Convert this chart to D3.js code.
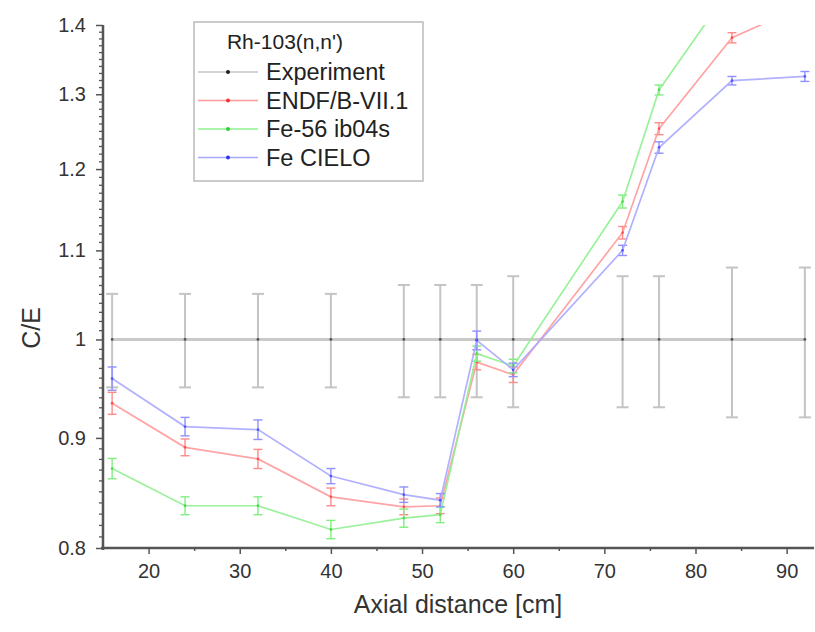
<!DOCTYPE html>
<html>
<head>
<meta charset="utf-8">
<script src="https://cdn.jsdelivr.net/npm/d3@7"></script>
<style>
  html, body { margin: 0; padding: 0; background: #fff; }
  svg { display: block; font-family: "Liberation Sans", Arial, sans-serif; }
</style>
</head>
<body>
<svg id="chart" width="815" height="632"></svg>
<script>
// ---- data ----
const axial = [16, 24, 32, 40, 48, 52, 56, 60, 72, 76, 84, 92];
const experiment = [1, 1, 1, 1, 1, 1, 1, 1, 1, 1, 1, 1];
const experimentErr = [0.05, 0.05, 0.05, 0.05, 0.06, 0.06, 0.06, 0.07, 0.07, 0.07, 0.08, 0.08];
const endf = [0.934, 0.891, 0.880, 0.845, 0.836, 0.837, 0.976, 0.963, 1.121, 1.253, 1.381, 1.43];
const endfErr = [0.011, 0.008, 0.009, 0.008, 0.007, 0.007, 0.008, 0.008, 0.0075, 0.008, 0.0075, 0.008];
const fe56 = [0.871, 0.837, 0.837, 0.816, 0.826, 0.829, 0.985, 0.972, 1.159, 1.306, 1.46, 1.52];
const fe56Err = [0.0095, 0.008, 0.008, 0.008, 0.008, 0.007, 0.008, 0.007, 0.008, 0.007, 0.008, 0.008];
const cielo = [0.959, 0.911, 0.908, 0.864, 0.847, 0.842, 0.999, 0.968, 1.10, 1.228, 1.319, 1.325];
const cieloErr = [0.012, 0.009, 0.0095, 0.007, 0.007, 0.006, 0.01, 0.007, 0.006, 0.0075, 0.006, 0.007];
const seriesNames = ["Experiment", "ENDF/B-VII.1", "Fe-56 ib04s", "Fe CIELO"];
const legendTitle = "Rh-103(n,n')";
const xTicks = [20, 30, 40, 50, 60, 70, 80, 90];
const yTicks = [0.8, 0.9, 1.0, 1.1, 1.2, 1.3, 1.4];
const yTickLabels = ["0.8", "0.9", "1", "1.1", "1.2", "1.3", "1.4"];

// ---- layout ----
const svg = d3.select("#chart");
const L = 103, R = 814, T = 25, B = 548;
const x = d3.scaleLinear().domain([15, 93]).range([L, R]);
const y = d3.scaleLog().domain([0.8, 1.4]).range([B, T]);

const series = [
  { name: seriesNames[0], v: experiment, e: experimentErr, line: "#c4c4c4", err: "#c4c4c4", dot: "#222", lw: 3, ew: 2, cap: 12 },
  { name: seriesNames[1], v: endf, e: endfErr, line: "#ff9a9a", err: "#ff8a8a", dot: "#ff3030", lw: 1.7, ew: 1.4, cap: 9 },
  { name: seriesNames[2], v: fe56, e: fe56Err, line: "#90f090", err: "#80ee80", dot: "#30d030", lw: 1.7, ew: 1.4, cap: 9 },
  { name: seriesNames[3], v: cielo, e: cieloErr, line: "#a8a8ff", err: "#9090ff", dot: "#3030ff", lw: 1.7, ew: 1.4, cap: 9 }
];

svg.append("defs").append("clipPath").attr("id", "clip")
  .append("rect").attr("x", L).attr("y", T).attr("width", R - L).attr("height", B - T);

const plot = svg.append("g").attr("clip-path", "url(#clip)");

series.forEach(s => {
  const pts = axial.map((a, i) => ({ x: a, v: s.v[i], e: s.e[i] }));
  const eg = plot.append("g").attr("stroke", s.err).attr("stroke-width", s.ew).attr("fill", "none");
  pts.forEach(p => {
    const cx = x(p.x), y1 = y(p.v + p.e), y0 = y(p.v - p.e);
    eg.append("line").attr("x1", cx).attr("x2", cx).attr("y1", y1).attr("y2", y0);
    eg.append("line").attr("x1", cx - s.cap / 2).attr("x2", cx + s.cap / 2).attr("y1", y1).attr("y2", y1);
    eg.append("line").attr("x1", cx - s.cap / 2).attr("x2", cx + s.cap / 2).attr("y1", y0).attr("y2", y0);
  });
  plot.append("path").datum(pts)
    .attr("fill", "none").attr("stroke", s.line).attr("stroke-width", s.lw)
    .attr("stroke-opacity", 0.9)
    .attr("d", d3.line().x(d => x(d.x)).y(d => y(d.v)));
  plot.append("g").selectAll("circle").data(pts).join("circle")
    .attr("cx", d => x(d.x)).attr("cy", d => y(d.v)).attr("r", 1.4)
    .attr("fill", s.dot).attr("opacity", 0.7);
});

// ---- axes ----
const axisColor = "#555";
const xAxis = d3.axisBottom(x).tickValues(xTicks).tickSize(6).tickPadding(10).tickFormat(d3.format("d"));
const gx = svg.append("g").attr("transform", `translate(0,${B})`).call(xAxis);
gx.select(".domain").attr("stroke", axisColor).attr("stroke-width", 2.5).attr("d", `M${L - 2},0H${R}`);
gx.selectAll(".tick line").attr("stroke", axisColor).attr("stroke-width", 1.5);
gx.selectAll(".tick text").attr("fill", "#333").style("font-size", "20px");
const xMinor = d3.axisBottom(x).tickValues(d3.range(25, 90, 10)).tickSize(3).tickFormat("");
const gxm = svg.append("g").attr("transform", `translate(0,${B})`).call(xMinor);
gxm.select(".domain").remove();
gxm.selectAll(".tick line").attr("stroke", axisColor).attr("stroke-width", 1.5);

const yAxis = d3.axisLeft(y).tickValues(yTicks).tickSize(7).tickPadding(10)
  .tickFormat((d, i) => yTickLabels[i]);
const gy = svg.append("g").attr("transform", `translate(${L},0)`).call(yAxis);
gy.select(".domain").attr("stroke", axisColor).attr("stroke-width", 2.5).attr("d", `M0,${B + 2}V${T}`);
gy.selectAll(".tick line").attr("stroke", axisColor).attr("stroke-width", 1.5);
gy.selectAll(".tick text").attr("fill", "#333").style("font-size", "20px");
const minorY = d3.range(81, 140).map(k => k / 100).filter(v => Math.round(v * 100) % 10 !== 0);
const yMinor = d3.axisLeft(y).tickValues(minorY).tickSize(4).tickFormat("");
const gym = svg.append("g").attr("transform", `translate(${L},0)`).call(yMinor);
gym.select(".domain").remove();
gym.selectAll(".tick line").attr("stroke", axisColor).attr("stroke-width", 1.3);

// axis titles
svg.append("text").attr("x", 458).attr("y", 613)
  .attr("text-anchor", "middle").attr("fill", "#333").style("font-size", "25px")
  .text("Axial distance [cm]");
svg.append("text").attr("transform", `translate(40,328) rotate(-90)`)
  .attr("text-anchor", "middle").attr("fill", "#333").style("font-size", "25px")
  .text("C/E");

// ---- legend ----
const lg = svg.append("g");
lg.append("rect").attr("x", 194).attr("y", 22).attr("width", 229).attr("height", 159)
  .attr("fill", "#fff").attr("stroke", "#bbb").attr("stroke-width", 1.5);
lg.append("text").attr("x", 285).attr("y", 49).attr("text-anchor", "middle")
  .attr("fill", "#222").style("font-size", "21px").text(legendTitle);
series.forEach((s, i) => {
  const yy = 72 + i * 28.5;
  lg.append("line").attr("x1", 198).attr("x2", 258).attr("y1", yy).attr("y2", yy)
    .attr("stroke", s.line).attr("stroke-width", 1.5);
  lg.append("circle").attr("cx", 228).attr("cy", yy).attr("r", 2).attr("fill", s.dot);
  lg.append("text").attr("x", 266).attr("y", yy + 8).attr("fill", "#222")
    .style("font-size", "23.5px").text(s.name);
});
</script>
</body>
</html>
